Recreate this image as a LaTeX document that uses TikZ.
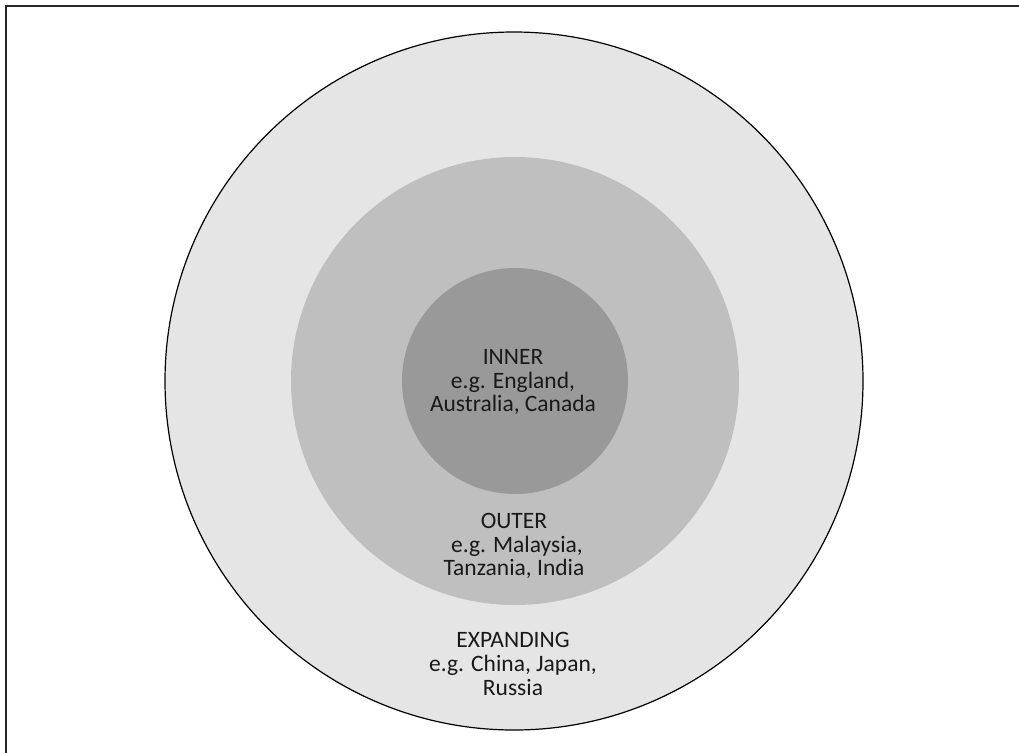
\documentclass[tikz,border=0pt]{standalone}
\usepackage{fontspec}
\setmainfont{Carlito}
\begin{document}
\begin{tikzpicture}[x=1pt,y=-1pt,
  ring/.style={circle,inner sep=0pt,minimum size=#1},
  lbl/.style={align=center,inner sep=0pt,font=\fontsize{23.5}{23.8}\selectfont,text=black!90}]
\useasboundingbox (0,0) rectangle (1019,753);
\fill[white] (0,0) rectangle (1019,753);
\coordinate (bl) at (6,753);
\coordinate (tl) at (6,6);
\coordinate (tr) at (1019,6);
\draw[line width=1.8pt,black!85] (bl) -- (tl) -- (tr);
\node[ring=698pt,fill=black!10,draw=black,line width=1.2pt] (expanding) at (514,381) {};
\node[ring=448pt,fill=black!25] (outer) at (515,381) {};
\node[ring=226pt,fill=black!40] (inner) at (515,381) {};
\node[lbl] (innerlbl) at (513,382) {INNER\\e.g. England,\\Australia, Canada};
\node[lbl] (outerlbl) at (514,546) {OUTER\\\hspace*{6pt}e.g. Malaysia,\\Tanzania, India};
\node[lbl] (explbl) at (513,664) {EXPANDING\\e.g. China, Japan,\\Russia};
\end{tikzpicture}
\end{document}
